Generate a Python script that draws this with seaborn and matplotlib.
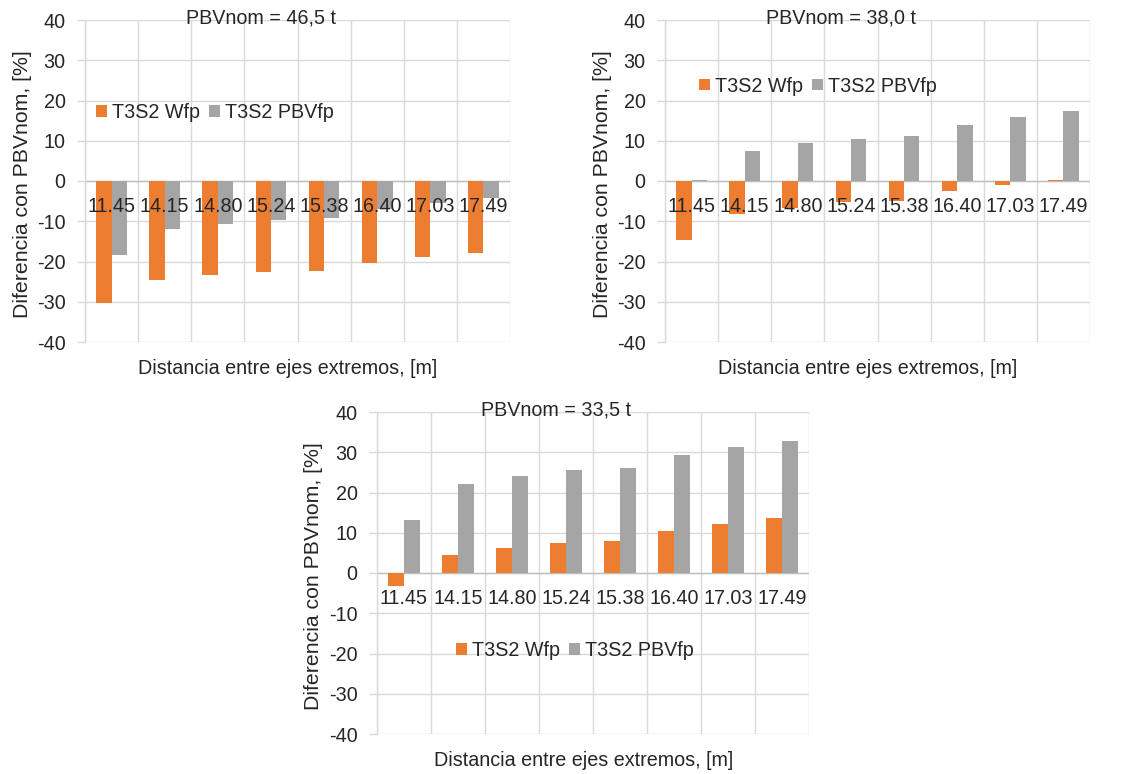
import matplotlib
matplotlib.use("Agg")
import matplotlib.pyplot as plt
import seaborn as sns
import pandas as pd

categories = ["11.45", "14.15", "14.80", "15.24", "15.38", "16.40", "17.03", "17.49"]
series_names = ["T3S2 Wfp", "T3S2 PBVfp"]
titles = ["PBVnom = 46,5 t", "PBVnom = 38,0 t", "PBVnom = 33,5 t"]

wfp_465 = [-30.2, -24.7, -23.4, -22.7, -22.4, -20.4, -19.0, -18.0]
pbvfp_465 = [-18.3, -12.0, -10.6, -9.6, -9.3, -7.0, -5.4, -4.2]

wfp_380 = [-14.6, -8.1, -6.8, -5.3, -5.0, -2.6, -0.9, 0.3]
pbvfp_380 = [0.2, 7.5, 9.5, 10.5, 11.2, 13.9, 15.9, 17.3]

wfp_335 = [-3.2, 4.5, 6.1, 7.5, 7.9, 10.5, 12.2, 13.6]
pbvfp_335 = [13.2, 22.0, 24.0, 25.7, 26.0, 29.3, 31.3, 32.7]

yticks = [-40, -30, -20, -10, 0, 10, 20, 30, 40]
ylabel = "Diferencia con PBVnom, [%]"
xlabel = "Distancia entre ejes extremos, [m]"

sns.set_style("white")
plt.rcParams["font.family"] = ["Liberation Sans", "DejaVu Sans"]

FS = 14.2
FS_Y = 15.3
ORANGE = "#ED7D31"
GRAY = "#A5A5A5"
GRID = "#D9D9D9"

fig = plt.figure(figsize=(11.4, 7.74), dpi=100)

W, H = 1140, 774
panels = [
    (85, 20, 425, 322, (wfp_465, pbvfp_465), titles[0], (0.026, 0.714)),
    (665, 20, 425, 322, (wfp_380, pbvfp_380), titles[1], (0.080, 0.795)),
    (377, 412, 432, 322, (wfp_335, pbvfp_335), titles[2], (0.183, 0.259)),
]

for (px, py, pw, ph, (wfp, pbv), title, leg_pos) in panels:
    ax = fig.add_axes([px / W, 1 - (py + ph) / H, pw / W, ph / H])
    df = pd.DataFrame({
        "cat": categories * 2,
        "val": list(wfp) + list(pbv),
        "serie": [series_names[0]] * len(categories) + [series_names[1]] * len(categories),
    })
    sns.barplot(data=df, x="cat", y="val", hue="serie", order=categories,
                hue_order=series_names, palette=[ORANGE, GRAY], width=0.58,
                errorbar=None, linewidth=0, saturation=1, ax=ax, zorder=2)
    ax.set_axisbelow(True)
    ax.set_xlim(-0.5, len(categories) - 0.5)
    ax.set_ylim(-40, 40)
    ax.set_yticks(yticks)
    ax.set_yticklabels([str(t) for t in yticks], fontsize=FS)
    ax.tick_params(axis="y", length=6, width=1, color=GRID, pad=8.0, direction="out", left=True)
    ax.set_xticks([i + 0.5 for i in range(-1, len(categories))], minor=True)
    ax.set_xticks([])
    ax.tick_params(axis="x", which="both", length=0)
    ax.grid(axis="y", which="major", color=GRID, linewidth=1)
    ax.grid(axis="x", which="minor", color=GRID, linewidth=1)
    for s in ["top", "right", "bottom"]:
        ax.spines[s].set_visible(False)
    ax.spines["left"].set_color(GRID)
    ax.spines["left"].set_linewidth(1)
    ax.axhline(0, color="#BFBFBF", linewidth=1, zorder=1.8)
    for i, c in enumerate(categories):
        ax.annotate(c, xy=(i, 0), xytext=(0, -18.5), textcoords="offset points",
                    ha="center", va="center", fontsize=FS, zorder=5)
    ax.set_xlabel(xlabel, fontsize=FS)
    ax.xaxis.set_label_coords(0.5 - 9.5 / pw, -27 / ph)
    ax.xaxis.label.set_va("center")
    ax.set_ylabel(ylabel, fontsize=FS_Y)
    ax.yaxis.set_label_coords(-63 / pw, 0.5 - 3 / ph)
    ax.yaxis.label.set_va("center")
    ax.text(0.414, 1.006, title, transform=ax.transAxes, ha="center", va="center", fontsize=FS)
    handles, labels = ax.get_legend_handles_labels()
    ax.legend(handles, labels, loc="center left", bbox_to_anchor=leg_pos, frameon=False,
              ncol=2, fontsize=FS, handlelength=0.55, handleheight=0.55,
              handletextpad=0.27, columnspacing=0.45, borderpad=0, borderaxespad=0)

fig.savefig("out.png", dpi=100)
